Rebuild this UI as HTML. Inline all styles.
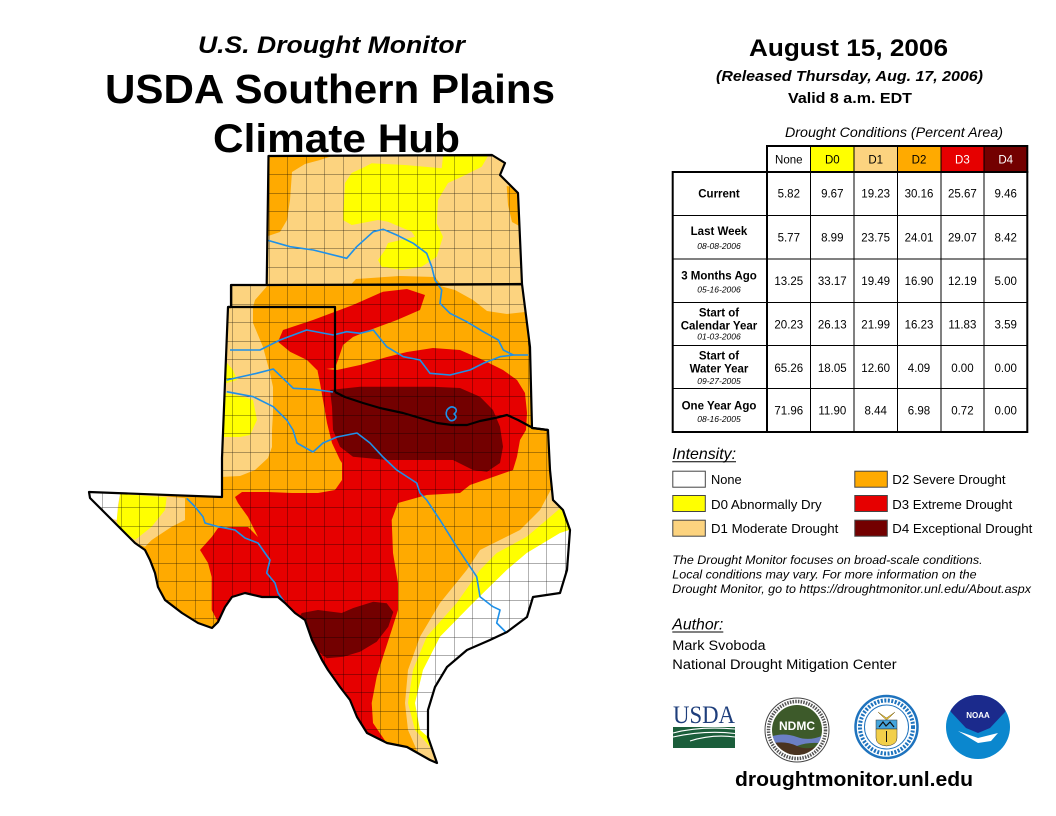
<!DOCTYPE html>
<html>
<head>
<meta charset="utf-8">
<style>
  html,body{margin:0;padding:0;background:#fff;}
  svg{display:block;}
</style>
</head>
<body>
<svg width="1056" height="816" viewBox="0 0 1056 816" xmlns="http://www.w3.org/2000/svg" font-family="'Liberation Sans', Arial, sans-serif">
  <defs>
    <clipPath id="outline">
      <path id="olp" d="M268.5,156 L492,155 L505,163 L500,175 L508,183 L518,193 L522,284 L530,347 L532,428 L548,430 L550,470 L553,500 L563,510 L570,530 L567,570 L560,593 L533,597 L527,617 L507,632 L490,640 L467,650 L447,667 L435,687 L428,710 L428,737 L437,763 L430,760 L407,747 L387,743 L367,733 L357,717 L350,700 L340,687 L333,677 L328,670 L322,660 L312,640 L305,620 L295,613 L285,603 L278,597 L262,597 L245,593 L232,597 L225,607 L218,622 L212,628 L198,623 L182,613 L165,600 L158,587 L155,573 L150,560 L145,550 L135,543 L125,533 L112,520 L100,508 L90,498 L89,492 L222,497 L222,458 L228,307 L231,307 L231,285 L266.7,285 Z"/>
    </clipPath>
    <pattern id="cty" patternUnits="userSpaceOnUse" x="269" y="156" width="18.5" height="18.5">
      <path d="M0,0 H18.5 M0,0 V18.5" stroke="#000" stroke-width="0.7" fill="none"/>
    </pattern>
    <clipPath id="ndc"><circle cx="797" cy="730" r="25"/></clipPath>
    <clipPath id="noc"><circle cx="978" cy="727" r="32"/></clipPath>
  </defs>

  <!-- Titles -->
  <text x="331.5" y="53" font-size="24" font-weight="bold" font-style="italic" text-anchor="middle" textLength="267" lengthAdjust="spacingAndGlyphs">U.S. Drought Monitor</text>
  <text x="330" y="103" font-size="41" font-weight="bold" text-anchor="middle" textLength="450" lengthAdjust="spacingAndGlyphs">USDA Southern Plains</text>
  <text x="336.5" y="152" font-size="40" font-weight="bold" text-anchor="middle" textLength="247" lengthAdjust="spacingAndGlyphs">Climate Hub</text>

  <!-- MAP -->
  <g clip-path="url(#outline)">
    <rect x="60" y="140" width="560" height="660" fill="#FFAA00"/>
    <!-- Kansas D1 -->
    <rect x="260" y="150" width="270" height="135.5" fill="#FCD37F"/>
    <!-- Kansas orange areas -->
    <polygon fill="#FFAA00" points="262,150 332,150 332,156 320,160 305,164 292,172 290,200 287,220 280,232 262,238"/>
    <polygon fill="#FFAA00" points="350,285.5 356,279 400,276 435,277 442,285.5"/>
    <polygon fill="#FFAA00" points="506.7,186 520,188 521,227 512,222 508,205"/>
    <!-- Kansas yellow -->
    <polygon fill="#FFFF00" points="351.7,173 365,166.7 371.7,163.3 405,165 441.7,168.3 443,156 488,156 481.7,166.7 461.7,176.7 448,183 438,200 436.7,223.3 443,236.7 436.7,256.7 421.7,266.7 401.7,270 381.7,266.7 378,260 385,250 388,243 415,236.7 411.7,231.7 388,221.7 378,220 351.7,225 343,220 345,183"/>
    <!-- Panhandle D1 -->
    <polygon fill="#FCD37F" points="220,285 268,285 262,292 255,300 253,307 253,323 263,347 270,373 273,387 273,413 272,430 272,447 268,458 255,470 240,476 220,477"/>
    <!-- OK NE D1 -->
    <polygon fill="#FCD37F" points="440,286 525,285 525,312 507,314 487,311 473,300 455,290"/>
    <!-- Panhandle yellow -->
    <polygon fill="#FFFF00" points="220,362 227,363 233,370 237,380 227,383 220,383"/>
    <polygon fill="#FFFF00" points="220,393 226.7,393.3 243.3,396.7 253,400 257,420 250,435 240,437 220,437"/>
    <!-- West Texas -->
    <polygon fill="#FCD37F" points="100,490 185,498.3 185,520 171.7,526.7 151.7,540 145,546.7 135,543 110,525"/>
    <polygon fill="#FFFF00" points="120,494 166.7,497.3 165,510 151.7,526.7 135,540 118,527 116.7,520"/>
    <polygon fill="#FFFFFF" points="80,485 120,494 118,505 116.7,520 100,515 80,505"/>
    <!-- SE Texas bands -->
    <polygon fill="#FCD37F" points="556,480 540,510 520,530 480,550 466.7,570 440,603 420,636.7 408,670 405,703 408,730 416.7,750 423,760 445,775 600,775 600,480"/>
    <polygon fill="#FFFF00" points="562,506.7 543,523 526.7,536.7 496.7,553 480,570 456.7,603 426.7,636.7 413,670 408,703 415,730 426.7,743 445,765 600,765 600,500"/>
    <polygon fill="#FFFFFF" points="560,533 526.7,553 506.7,570 473,603 440,636.7 423,670 415,703 420,730 428,737 460,780 620,560 600,520"/>
    <!-- D3 -->
    <polygon fill="#E60000" points="278,341.7 283,330 313,320 353,305 383,291.7 407,289 425,295 420,310 397,320 370,330 353,337 343,345 338,360 335,368 317,370 307,360 290,351.7"/>
    <polygon fill="#E60000" points="317,368 337,370 360,365 387,357 407,352 433,348 460,350 483,360 503,370 517,380 525,393 527,413 526,430 520,440 517,456.7 513,470 493,477 470,485 460,493 426.7,495 398,503 391.7,520 393,553 398,583 398,610 391.7,630 383,656.7 376.7,676.7 371.7,703 373,723 390,748 395,790 300,790 240,660 218,622 211.7,610 211.7,577 208,563 200,550 211.7,537 218,528 232,527 248,527 258,537 248,517 238,503 235,497 242,492 268,492 292,493 318,493 335,490 342,480 342,463 340,460 332,443 327,423 323,400 320,383"/>
    <!-- D4 -->
    <polygon fill="#730000" points="330,390 360,386.7 397,386.7 433,386.7 460,388 480,396.7 493,410 500,426.7 503,446.7 500,463 487,471.7 473,470 453,460 420,460 387,460 353,456.7 340,446.7 333,430 332,406.7"/>
    <polygon fill="#730000" points="295,625 301.7,613 318,610 341.7,613 353.3,608 373.3,601.7 386.7,603.3 393.3,612 388.3,626.7 376.7,641.7 360,651.7 343.3,656.7 326.7,658.3 316.7,650 310,636.7"/>
    <!-- counties -->
    <rect x="60" y="140" width="560" height="660" fill="url(#cty)" opacity="0.85"/>
  </g>

  <!-- rivers -->
  <g fill="none" stroke="#1E90E8" stroke-width="1.6" stroke-linejoin="round">
    <polyline points="266.7,240 290,246.7 313.3,250 346.7,258.3 356.7,246.7 373.3,231.7 383.3,229.3 396.7,235 413.3,243.3 426.7,253.3 431.7,266.7 435,280 441.7,290 440,303.3 450,313.3 466.7,321.7 483.3,331.7 498.3,340 503.3,350 513.3,355 528.3,355"/>
    <polyline points="230,350 260,350 280,340 306.7,330 333.3,335 346.7,331.7 360,333.3 373.3,330 386.7,346.7 403.3,356.7 420,360 430,373.3 450,375 470,370 483.3,363.3 500,356.7 513.3,355"/>
    <polyline points="226.7,380 256.7,373.3 273.3,369 293.3,388.3 313.3,389.3 333,392"/>
    <polyline points="226.7,391.7 253.3,396.7 273.3,406.7 286.7,420 293,430 297,443 313,452 323,443 337,437 357,433 370,443 383,457 396.7,470 416.7,483 420,493 426.7,500 440,520 456.7,546.7 470,566.7 476.7,576.7 480,596.7 493,606.7 500,610 496.7,623 506.7,633"/>
    <polyline points="186.7,498.3 195,506.7 203,516.7 205,523 218,526.7 235,530 245,538 258,543 265,553 270,560 266.7,573 275,583 278,593 285,603"/>
    <path d="M447,410 q4,-5 8,-2 q3,3 -1,6 q4,3 0,6 q-4,2 -6,-2 q-3,-3 -1,-8z"/>
  </g>

  <!-- state borders -->
  <g fill="none" stroke="#000" stroke-width="2.2" stroke-linejoin="round">
    <use href="#olp"/>
    <path d="M266.7,285 L522,284"/>
    <path d="M228,307 L335,307 L335,392"/>
    <path d="M335,392 L345,397 L363,403 L380,408 L403,413 L420,418 L437,423 L452,425 L467,425 L480,421 L495,418 L507,415 L518,420 L533,428 L548,430"/>
  </g>

  <!-- RIGHT HEADER -->
  <text x="848.5" y="56" font-size="24" font-weight="bold" text-anchor="middle" textLength="199" lengthAdjust="spacingAndGlyphs">August 15, 2006</text>
  <text x="849.5" y="81" font-size="15" font-weight="bold" font-style="italic" text-anchor="middle" textLength="267" lengthAdjust="spacingAndGlyphs">(Released Thursday, Aug. 17, 2006)</text>
  <text x="850" y="103" font-size="15" font-weight="bold" text-anchor="middle" textLength="124" lengthAdjust="spacingAndGlyphs">Valid 8 a.m. EDT</text>
  <text x="894" y="137" font-size="13.5" font-style="italic" text-anchor="middle" textLength="218" lengthAdjust="spacingAndGlyphs">Drought Conditions (Percent Area)</text>

  <!-- TABLE -->
  <g>
    <rect x="767" y="146" width="43.5" height="26" fill="#FFFFFF"/>
    <rect x="810.5" y="146" width="43.5" height="26" fill="#FFFF00"/>
    <rect x="854" y="146" width="43.5" height="26" fill="#FCD37F"/>
    <rect x="897.5" y="146" width="43.5" height="26" fill="#FFAA00"/>
    <rect x="941" y="146" width="43" height="26" fill="#E60000"/>
    <rect x="984" y="146" width="43.3" height="26" fill="#730000"/>
    <rect x="767" y="146" width="260.3" height="26" fill="none" stroke="#000" stroke-width="2"/>
    <g stroke="#000" stroke-width="1">
      <line x1="810.5" y1="146" x2="810.5" y2="172"/>
      <line x1="854" y1="146" x2="854" y2="172"/>
      <line x1="897.5" y1="146" x2="897.5" y2="172"/>
      <line x1="941" y1="146" x2="941" y2="172"/>
      <line x1="984" y1="146" x2="984" y2="172"/>
    </g>
    <g font-size="11.5" text-anchor="middle">
      <text x="788.8" y="163.5">None</text>
      <text x="832.3" y="163.5">D0</text>
      <text x="875.7" y="163.5">D1</text>
      <text x="919" y="163.5">D2</text>
      <text x="962.4" y="163.5" fill="#fff">D3</text>
      <text x="1005.7" y="163.5" fill="#fff">D4</text>
    </g>
    <rect x="672.7" y="172" width="354.6" height="260" fill="#fff" stroke="#000" stroke-width="2"/>
    <g stroke="#000" stroke-width="1">
      <line x1="672.7" y1="215.5" x2="1027.3" y2="215.5"/>
      <line x1="672.7" y1="259" x2="1027.3" y2="259"/>
      <line x1="672.7" y1="302.5" x2="1027.3" y2="302.5"/>
      <line x1="672.7" y1="345.5" x2="1027.3" y2="345.5"/>
      <line x1="672.7" y1="388.5" x2="1027.3" y2="388.5"/>
      <line x1="767" y1="172" x2="767" y2="432" stroke-width="2"/>
      <line x1="810.5" y1="172" x2="810.5" y2="432"/>
      <line x1="854" y1="172" x2="854" y2="432"/>
      <line x1="897.5" y1="172" x2="897.5" y2="432"/>
      <line x1="941" y1="172" x2="941" y2="432"/>
      <line x1="984" y1="172" x2="984" y2="432"/>
    </g>
    <g text-anchor="middle">
      <g font-size="11.5" font-weight="bold">
        <text x="719" y="197.5">Current</text>
        <text x="719" y="235">Last Week</text>
        <text x="719" y="279.3">3 Months Ago</text>
        <text x="719" y="316.5">Start of</text>
        <text x="719" y="329.3">Calendar Year</text>
        <text x="719" y="359.3">Start of</text>
        <text x="719" y="372.6">Water Year</text>
        <text x="719" y="409.3">One Year Ago</text>
      </g>
      <g font-size="8.5" font-style="italic">
        <text x="719" y="249">08-08-2006</text>
        <text x="719" y="292.3">05-16-2006</text>
        <text x="719" y="339.7">01-03-2006</text>
        <text x="719" y="384">09-27-2005</text>
        <text x="719" y="422">08-16-2005</text>
      </g>
    </g>
    <g font-size="11.5" text-anchor="middle">
      <text x="788.8" y="197.5">5.82</text><text x="832.3" y="197.5">9.67</text><text x="875.7" y="197.5">19.23</text><text x="919" y="197.5">30.16</text><text x="962.4" y="197.5">25.67</text><text x="1005.7" y="197.5">9.46</text>
      <text x="788.8" y="241.5">5.77</text><text x="832.3" y="241.5">8.99</text><text x="875.7" y="241.5">23.75</text><text x="919" y="241.5">24.01</text><text x="962.4" y="241.5">29.07</text><text x="1005.7" y="241.5">8.42</text>
      <text x="788.8" y="285">13.25</text><text x="832.3" y="285">33.17</text><text x="875.7" y="285">19.49</text><text x="919" y="285">16.90</text><text x="962.4" y="285">12.19</text><text x="1005.7" y="285">5.00</text>
      <text x="788.8" y="328.3">20.23</text><text x="832.3" y="328.3">26.13</text><text x="875.7" y="328.3">21.99</text><text x="919" y="328.3">16.23</text><text x="962.4" y="328.3">11.83</text><text x="1005.7" y="328.3">3.59</text>
      <text x="788.8" y="372">65.26</text><text x="832.3" y="372">18.05</text><text x="875.7" y="372">12.60</text><text x="919" y="372">4.09</text><text x="962.4" y="372">0.00</text><text x="1005.7" y="372">0.00</text>
      <text x="788.8" y="414.6">71.96</text><text x="832.3" y="414.6">11.90</text><text x="875.7" y="414.6">8.44</text><text x="919" y="414.6">6.98</text><text x="962.4" y="414.6">0.72</text><text x="1005.7" y="414.6">0.00</text>
    </g>
  </g>

  <!-- LEGEND -->
  <text x="672.3" y="459" font-size="16" font-style="italic" textLength="63.7" lengthAdjust="spacingAndGlyphs">Intensity:</text>
  <line x1="672.3" y1="461.8" x2="736" y2="461.8" stroke="#000" stroke-width="1"/>
  <g stroke="#444" stroke-width="1">
    <rect x="672.8" y="471.2" width="32.5" height="16" fill="#FFFFFF"/>
    <rect x="672.8" y="495.5" width="32.5" height="16" fill="#FFFF00"/>
    <rect x="672.8" y="520.2" width="32.5" height="16" fill="#FCD37F"/>
    <rect x="854.8" y="471.2" width="32.5" height="16" fill="#FFAA00"/>
    <rect x="854.8" y="495.5" width="32.5" height="16" fill="#E60000"/>
    <rect x="854.8" y="520.2" width="32.5" height="16" fill="#730000"/>
  </g>
  <g font-size="13">
    <text x="711" y="484" textLength="30.7" lengthAdjust="spacingAndGlyphs">None</text>
    <text x="711" y="508.8" textLength="110.7" lengthAdjust="spacingAndGlyphs">D0 Abnormally Dry</text>
    <text x="711" y="533" textLength="127.3" lengthAdjust="spacingAndGlyphs">D1 Moderate Drought</text>
    <text x="892.3" y="484" textLength="113.3" lengthAdjust="spacingAndGlyphs">D2 Severe Drought</text>
    <text x="892.3" y="508.8" textLength="120" lengthAdjust="spacingAndGlyphs">D3 Extreme Drought</text>
    <text x="892.3" y="533" textLength="140" lengthAdjust="spacingAndGlyphs">D4 Exceptional Drought</text>
  </g>
  <g font-size="11.5" font-style="italic">
    <text x="672.3" y="564" textLength="310.3" lengthAdjust="spacingAndGlyphs">The Drought Monitor focuses on broad-scale conditions.</text>
    <text x="672.3" y="578.5" textLength="304.3" lengthAdjust="spacingAndGlyphs">Local conditions may vary. For more information on the</text>
    <text x="672.3" y="593" textLength="358.7" lengthAdjust="spacingAndGlyphs">Drought Monitor, go to https://droughtmonitor.unl.edu/About.aspx</text>
  </g>
  <text x="672.3" y="629.5" font-size="16" font-style="italic" textLength="51" lengthAdjust="spacingAndGlyphs">Author:</text>
  <line x1="672.3" y1="632" x2="723.3" y2="632" stroke="#000" stroke-width="1"/>
  <text x="672.3" y="650" font-size="13.5" textLength="93.3" lengthAdjust="spacingAndGlyphs">Mark Svoboda</text>
  <text x="672.3" y="669" font-size="13.5" textLength="224.3" lengthAdjust="spacingAndGlyphs">National Drought Mitigation Center</text>

  <!-- LOGOS -->
  <text x="704" y="723" font-family="'Liberation Serif', serif" font-size="25" fill="#1E3E7B" text-anchor="middle" textLength="62" lengthAdjust="spacingAndGlyphs">USDA</text>
  <rect x="673" y="727" width="62" height="21" fill="#1B5E3B"/>
  <path d="M673,733 Q700,726 735,729 M673,737 Q705,730 735,733.5 M690,741 Q712,734 735,737" stroke="#fff" stroke-width="1.1" fill="none"/>

  <circle cx="797" cy="730" r="32" fill="#fff" stroke="#444" stroke-width="1"/>
  <circle cx="797" cy="730" r="28.5" fill="none" stroke="#555" stroke-width="3.5" stroke-dasharray="1.5 1.2"/>
  <g clip-path="url(#ndc)">
    <rect x="770" y="703" width="54" height="54" fill="#3D5A2A"/>
    <path d="M770,737 Q783,732 797,737 T826,734 V744 Q810,741 797,746 T770,744 Z" fill="#6B7FC4"/>
    <path d="M770,744 Q784,740 797,746 T826,742 V760 H770 Z" fill="#4A3320"/>
  </g>
  <text x="797" y="730" font-size="12" font-weight="bold" fill="#fff" text-anchor="middle">NDMC</text>

  <circle cx="886.5" cy="727" r="31" fill="#fff" stroke="#1E73BE" stroke-width="2.5"/>
  <circle cx="886.5" cy="727" r="26.5" fill="none" stroke="#1E73BE" stroke-width="4" stroke-dasharray="2 1.5"/>
  <circle cx="886.5" cy="727" r="22" fill="#fff" stroke="#1E73BE" stroke-width="1"/>
  <path d="M878,712 L886.5,718 L895,712 L891,716 L886.5,720 L882,716 Z" fill="#E8C23A" stroke="#7a6010" stroke-width="0.5"/>
  <rect x="876" y="720" width="21" height="9" fill="#45A5DC" stroke="#333" stroke-width="0.5"/>
  <path d="M879,727 L883,722 L886,726 L890,722 L894,727" stroke="#111" stroke-width="1.2" fill="none"/>
  <path d="M876,729 H897 V738 Q897,745 886.5,746 Q876,745 876,738 Z" fill="#F2CF4A" stroke="#333" stroke-width="0.5"/>
  <line x1="886.5" y1="731" x2="886.5" y2="742" stroke="#111" stroke-width="1"/>

  <g clip-path="url(#noc)">
    <rect x="944" y="693" width="68" height="68" fill="#0B87CE"/>
    <polygon points="940,690 1016,690 1005,712 990,728 978,733 966,728 951,712" fill="#1B2A8C"/>
    <path d="M958,731 L978,738 L998,733 L991,741 L978,743 Z" fill="#fff"/>
  </g>
  <text x="978" y="718" font-size="8" font-weight="bold" fill="#fff" text-anchor="middle">NOAA</text>

  <text x="854" y="786" font-size="20" font-weight="bold" text-anchor="middle" textLength="238" lengthAdjust="spacingAndGlyphs">droughtmonitor.unl.edu</text>
</svg>
</body>
</html>
